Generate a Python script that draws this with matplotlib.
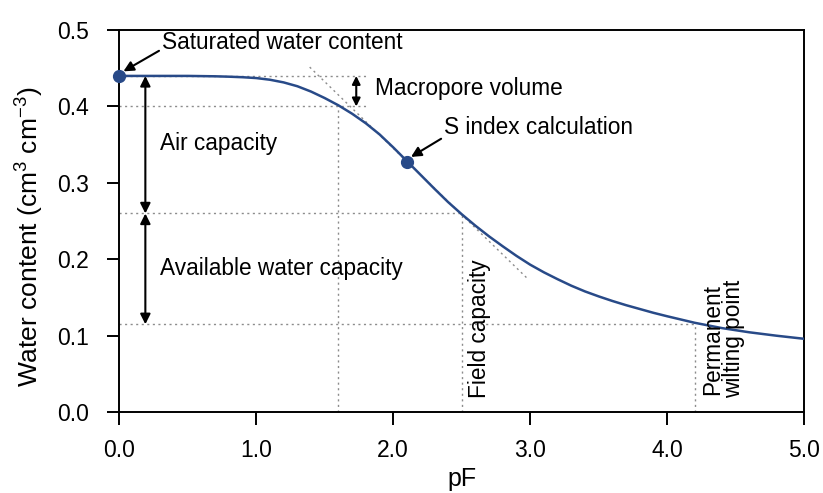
import numpy as np
import matplotlib
matplotlib.use('Agg')
import matplotlib.pyplot as plt

plt.rcParams['font.family'] = ['Liberation Sans', 'DejaVu Sans']
plt.rcParams['mathtext.default'] = 'regular'

# water retention curve
pf = [0.0, 0.25, 0.5, 0.7, 0.8, 0.9, 1.0, 1.1, 1.2, 1.3, 1.4, 1.5, 1.6, 1.7,
      1.8, 1.9, 2.0, 2.1, 2.2, 2.3, 2.4, 2.5, 2.6, 2.7, 2.8, 2.9, 3.0, 3.1,
      3.2, 3.3, 3.4, 3.5, 3.6, 3.7, 3.8, 3.9, 4.0, 4.2, 4.4, 4.6, 4.8, 5.0]
theta = [0.4400, 0.4400, 0.4400, 0.4395, 0.4390, 0.4383, 0.4372, 0.4350,
         0.4315, 0.4265, 0.4195, 0.4110, 0.4015, 0.3905, 0.3780, 0.3635,
         0.3465, 0.3285, 0.3105, 0.2925, 0.2750, 0.2590, 0.2440, 0.2300,
         0.2170, 0.2045, 0.1930, 0.1830, 0.1740, 0.1655, 0.1580, 0.1515,
         0.1455, 0.1400, 0.1350, 0.1300, 0.1255, 0.1170, 0.1100, 0.1045,
         0.1000, 0.0960]

# key points
theta_s = 0.44
theta_macro = 0.40
theta_fc = 0.26
theta_pwp = 0.115
pf_macro = 1.6
pf_fc = 2.5
pf_pwp = 4.2
s_point = (2.1, 0.328)
s_slope = -0.174
tangent_x = [1.39, 2.99]

line_col = '#284a88'
grid_col = '#8c8c8c'

fig = plt.figure(figsize=(8.23, 4.93), dpi=100)
ax = fig.add_axes([0.145, 0.164, 0.832, 0.775])

dot = dict(color=grid_col, linestyle=(0, (1.5, 2.5)), linewidth=1.0, zorder=1)
ax.plot([0, 1.8], [theta_s, theta_s], **dot)
ax.plot([0, 1.8], [theta_macro, theta_macro], **dot)
ax.plot([pf_macro, pf_macro], [0, theta_macro], **dot)
ax.plot([0, pf_fc], [theta_fc, theta_fc], **dot)
ax.plot([pf_fc, pf_fc], [0, theta_fc], **dot)
ax.plot([0, pf_pwp], [theta_pwp, theta_pwp], **dot)
ax.plot([pf_pwp, pf_pwp], [0, theta_pwp], **dot)

# tangent at S index point
tx = np.array(tangent_x)
ty = s_point[1] + s_slope * (tx - s_point[0])
ax.plot(tx, ty, **dot)

ax.plot(pf, theta, color=line_col, linewidth=1.8, zorder=3)
ax.plot([0, s_point[0]], [theta_s, s_point[1]], 'o', color=line_col,
        markersize=8.5, zorder=4, clip_on=False)

arr = dict(arrowstyle='<|-|>', color='black', lw=1.5, mutation_scale=15,
           shrinkA=0, shrinkB=0)
ax.annotate('', xy=(0.19, theta_s), xytext=(0.19, theta_fc), arrowprops=arr)
ax.annotate('', xy=(0.19, theta_fc), xytext=(0.19, theta_pwp), arrowprops=arr)
arr_small = dict(arr, mutation_scale=12)
ax.annotate('', xy=(1.73, theta_s), xytext=(1.73, theta_macro), arrowprops=arr_small)

one = dict(arrowstyle='-|>', color='black', lw=1.5, mutation_scale=15,
           shrinkA=0, shrinkB=0)
fs = 16.3
ax.annotate('Saturated water content', xy=(0.03, 0.446), xytext=(0.31, 0.484),
            fontsize=fs, va='center', ha='left', arrowprops=dict(one, relpos=(0, 0.2)))
ax.annotate('S index calculation', xy=(2.13, 0.334), xytext=(2.37, 0.372),
            fontsize=fs, va='center', ha='left', arrowprops=dict(one, relpos=(0, 0.1)))

ax.text(0.30, 0.352, 'Air capacity', fontsize=fs, va='center', ha='left')
ax.text(0.30, 0.188, 'Available water capacity', fontsize=fs, va='center', ha='left')
ax.text(1.87, 0.424, 'Macropore volume', fontsize=fs, va='center', ha='left')
ax.text(2.63, 0.018, 'Field capacity', fontsize=fs, rotation=90, va='bottom', ha='center')
ax.text(4.41, 0.018, 'Permanent\nwilting point', fontsize=fs, rotation=90,
        va='bottom', ha='center', linespacing=0.85)

ax.set_xlim(0, 5)
ax.set_ylim(0, 0.5)
ax.set_xticks(np.arange(0, 5.1, 1.0))
ax.set_yticks(np.arange(0, 0.51, 0.1))
ax.set_xticklabels([f'{v:.1f}' for v in np.arange(0, 5.1, 1.0)])
ax.set_yticklabels([f'{v:.1f}' for v in np.arange(0, 0.51, 0.1)])
ax.tick_params(direction='out', length=9, width=1.4, labelsize=16.5, pad=10)
ax.tick_params(axis='y', pad=13)
for s in ax.spines.values():
    s.set_linewidth(1.4)

ax.set_xlabel('pF', fontsize=18, labelpad=4)
ax.set_ylabel('Water content (cm$^{3}$ cm$^{-3}$)', fontsize=19)
ax.yaxis.set_label_coords(-0.107, 0.46)

plt.savefig('out.png', dpi=100)
